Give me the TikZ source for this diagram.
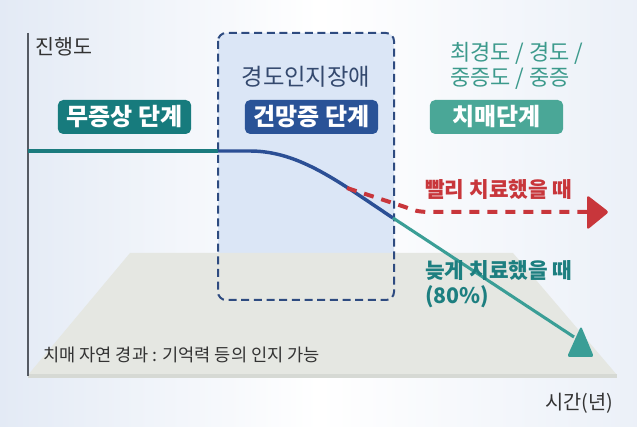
\documentclass[tikz,border=0pt]{standalone}
\usepackage{fontspec}
\setmainfont{Noto Sans CJK KR}
\usepackage{tikz}

\definecolor{bgside}{HTML}{E3EAF5}
\definecolor{axisgray}{HTML}{555A63}
\definecolor{textgray}{HTML}{333333}
\definecolor{stageteal}{HTML}{177B7D}
\definecolor{stageblue}{HTML}{2A5397}
\definecolor{stagemint}{HTML}{4AA797}
\definecolor{mcifill}{HTML}{DBE6F6}
\definecolor{mciedge}{HTML}{2E4B80}
\definecolor{mcitext}{HTML}{34496E}
\definecolor{curveblue}{HTML}{2B4F95}
\definecolor{lineteal}{HTML}{1B7B7E}
\definecolor{lateteal}{HTML}{3A9E96}
\definecolor{latetext}{HTML}{1D7F80}
\definecolor{severtext}{HTML}{3C9A8C}
\definecolor{earlyred}{HTML}{C8363B}
\definecolor{floorgray}{HTML}{E5E7E2}
\definecolor{floorshadow}{HTML}{D6D9D4}

\begin{document}
\begin{tikzpicture}[x=0.75pt,y=0.75pt,yscale=-1,
  stagebox/.style={fill=#1,rounded corners=4pt,text=white,font=\fontsize{18}{21}\selectfont\bfseries,
    minimum width=100pt,minimum height=25.5pt,inner sep=0pt},
  labeltext/.style={anchor=west,inner sep=0pt,align=left}]
\useasboundingbox (0,0) rectangle (637,427);
%background
\shade[left color=bgside,right color=bgside!70,middle color=white] (0,0) rectangle (637,427);

%MCI band fill
\fill [mcifill,rounded corners=6pt] (218,33) rectangle (394,300);
%floor
\fill [floorgray] (130,253) -- (513,253) -- (617,375) -- (28,375) -- cycle;
\fill [floorshadow] (28,374) rectangle (617,378);
%MCI band border
\draw [mciedge,line width=1.5pt,dash pattern=on 6pt off 3.5pt,rounded corners=6pt] (218,33) rectangle (394,300);

%axis
\coordinate (axtop) at (28,33);
\coordinate (axbot) at (28,376);
\draw [axisgray,line width=1.2pt] (axtop) -- (axbot);

%course of disease
\coordinate (flatstart) at (28,151);
\coordinate (mcistart) at (218,151);
\coordinate (bendstart) at (250,151);
\coordinate (mciend) at (393,218);
\coordinate (branch) at (347,188);
\coordinate (earlyend) at (588,212);
\coordinate (lateend) at (574,337);
\draw [lineteal,line width=3pt] (flatstart) -- (mcistart);
\draw [curveblue,line width=2.6pt] (mcistart) -- (bendstart) .. controls (300,151) and (340,183) .. (mciend);
\draw [lateteal,line width=2.3pt] (mciend) -- (lateend);
\draw [earlyred,line width=3pt,dash pattern=on 7.5pt off 6pt] (branch) -- (405,207) .. controls (412,210) and (418,212) .. (430,212) -- (earlyend);

%arrow heads
\fill [earlyred,rounded corners=2pt] (587,195) -- (609,212) -- (587,230) -- cycle;
\fill [lateteal,rounded corners=2pt] (581,326) -- (594,357) -- (567,357) -- cycle;

% stage boxes
\node [stagebox=stageteal] (asym) at (124.5,117) {무증상 단계};
\node [stagebox=stageblue] (forget) at (311.5,117) {건망증 단계};
\node [stagebox=stagemint] (dementia) at (496.5,117) {치매단계};

% Text Node
\node [labeltext,text=textgray,font=\fontsize{15.5}{18}\selectfont] (ylabel) at (35,47) {진행도};
% Text Node
\node [text=mcitext,inner sep=0pt,font=\fontsize{17.5}{20}\selectfont] (mci) at (306,77) {경도인지장애};
% Text Node
\node [labeltext,text=severtext,font=\fontsize{16.5}{18.75}\selectfont] (severity) at (450,65.5) {최경도 / 경도 /\\중증도 / 중증};
% Text Node
\node [labeltext,text=earlyred,font=\fontsize{16}{18.75}\selectfont\bfseries] (early) at (425,190) {빨리 치료했을 때};
% Text Node
\node [labeltext,text=latetext,font=\fontsize{16}{18.75}\selectfont\bfseries] (late) at (425,284.5) {늦게 치료했을 때\\(80\%)};
% Text Node
\node [labeltext,text=textgray,font=\fontsize{13.2}{15}\selectfont] (natural) at (43,355) {치매 자연 경과 : 기억력 등의 인지 가능};
% Text Node
\node [labeltext,text=textgray,font=\fontsize{14.8}{17}\selectfont] (xlabel) at (545,403) {시간(년)};
\end{tikzpicture}
\end{document}
